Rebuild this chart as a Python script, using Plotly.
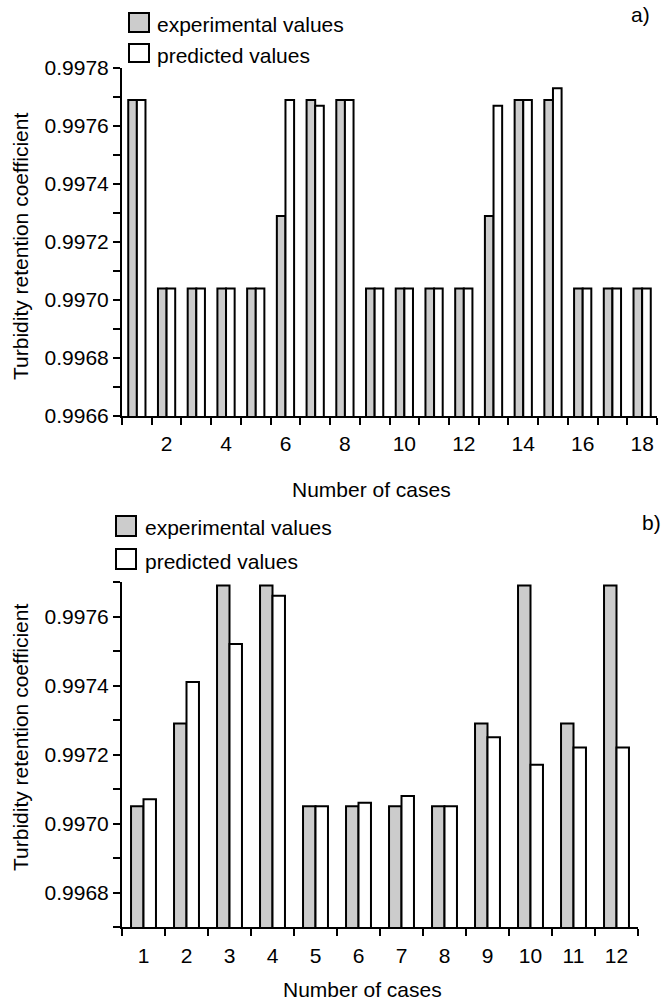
import plotly.graph_objects as go

# ---- data ----
cases_a = list(range(1, 19))
exp_a = [0.99769, 0.99704, 0.99704, 0.99704, 0.99704, 0.99729, 0.99769, 0.99769, 0.99704,
         0.99704, 0.99704, 0.99704, 0.99729, 0.99769, 0.99769, 0.99704, 0.99704, 0.99704]
pred_a = [0.99769, 0.99704, 0.99704, 0.99704, 0.99704, 0.99769, 0.99767, 0.99769, 0.99704,
          0.99704, 0.99704, 0.99704, 0.99767, 0.99769, 0.99773, 0.99704, 0.99704, 0.99704]

cases_b = list(range(1, 13))
exp_b = [0.99705, 0.99729, 0.99769, 0.99769, 0.99705, 0.99705, 0.99705, 0.99705,
         0.99729, 0.99769, 0.99729, 0.99769]
pred_b = [0.99707, 0.99741, 0.99752, 0.99766, 0.99705, 0.99706, 0.99708, 0.99705,
          0.99725, 0.99717, 0.99722, 0.99722]

yticks_a = [0.9966, 0.9968, 0.9970, 0.9972, 0.9974, 0.9976, 0.9978]
yticks_b = [0.9968, 0.9970, 0.9972, 0.9974, 0.9976]
xticks_a = [2, 4, 6, 8, 10, 12, 14, 16, 18]
xticks_b = cases_b

W, H = 662, 1003
FONT = "Liberation Sans, Arial, sans-serif"
FS = 21
GRAY = "#cccccc"


def px(x):
    return x / W


def py(y):
    return 1 - y / H


fig = go.Figure()
fig.add_trace(go.Bar(x=cases_a, y=exp_a, marker=dict(color=GRAY, line=dict(color="black", width=2)),
                     xaxis="x", yaxis="y", showlegend=False))
fig.add_trace(go.Bar(x=cases_a, y=pred_a, marker=dict(color="white", line=dict(color="black", width=2)),
                     xaxis="x", yaxis="y", showlegend=False))
fig.add_trace(go.Bar(x=cases_b, y=exp_b, marker=dict(color=GRAY, line=dict(color="black", width=2)),
                     xaxis="x2", yaxis="y2", showlegend=False))
fig.add_trace(go.Bar(x=cases_b, y=pred_b, marker=dict(color="white", line=dict(color="black", width=2)),
                     xaxis="x2", yaxis="y2", showlegend=False))

axis_common = dict(showline=True, linecolor="black", linewidth=2, showgrid=False, zeroline=False,
                   automargin=False, tickfont=dict(family=FONT, size=FS, color="black"))

fig.update_layout(
    template="none",
    width=W, height=H,
    margin=dict(l=0, r=0, t=0, b=0),
    paper_bgcolor="white", plot_bgcolor="white",
    barmode="group", bargap=0.42, bargroupgap=0,
    font=dict(family=FONT, size=FS, color="black"),
    xaxis=dict(domain=[px(122), px(657)], range=[0.5, 18.5], anchor="y",
               tickmode="array", tickvals=xticks_a, ticks="", ticklabelstandoff=8,
               minor=dict(ticks="outside", tick0=0.5, dtick=1, ticklen=7, tickwidth=2, tickcolor="black"),
               **axis_common),
    yaxis=dict(domain=[py(416), py(68)], range=[0.9966, 0.9978], anchor="x",
               tickmode="array", tickvals=yticks_a, tickformat=".4f",
               ticks="outside", ticklen=7, tickwidth=2, tickcolor="black",
               minor=dict(ticks="outside", tick0=0.9965, dtick=0.0001, ticklen=7, tickwidth=2, tickcolor="black"),
               **axis_common),
    xaxis2=dict(domain=[px(122), px(638)], range=[0.5, 12.5], anchor="y2",
                tickmode="array", tickvals=xticks_b, ticks="", ticklabelstandoff=9,
                minor=dict(ticks="outside", tick0=0.5, dtick=1, ticklen=7, tickwidth=2, tickcolor="black"),
                **axis_common),
    yaxis2=dict(domain=[py(927), py(582)], range=[0.9967, 0.9977], anchor="x2",
                tickmode="array", tickvals=yticks_b, tickformat=".4f",
                ticks="outside", ticklen=7, tickwidth=2, tickcolor="black",
                minor=dict(ticks="outside", tick0=0.9967, dtick=0.0001, ticklen=7, tickwidth=2, tickcolor="black"),
                **axis_common),
)

ann = []
shapes = []


def text(x, y, s, xanchor="center", angle=0):
    ann.append(dict(x=px(x), y=py(y), xref="paper", yref="paper", text=s, showarrow=False,
                    xanchor=xanchor, yanchor="middle", textangle=angle,
                    font=dict(family=FONT, size=FS, color="black")))


def box(x0, y0, x1, y1, fill):
    shapes.append(dict(type="rect", xref="paper", yref="paper", x0=px(x0), x1=px(x1), y0=py(y1), y1=py(y0),
                       fillcolor=fill, line=dict(color="black", width=2)))


# titles
text(20, 247, "Turbidity retention coefficient", angle=-90)
text(20, 738, "Turbidity retention coefficient", angle=-90)
text(371, 490, "Number of cases")
text(362, 989, "Number of cases")
text(640, 15, "a)")
text(651, 522, "b)")

# legends
box(129, 13, 149, 32, GRAY)
box(129, 44, 149, 62, "white")
text(155, 24, "experimental values", xanchor="left")
text(155, 55, "predicted values", xanchor="left")
box(116, 516, 136, 536, GRAY)
box(116, 549, 136, 569, "white")
text(143, 527, "experimental values", xanchor="left")
text(143, 561, "predicted values", xanchor="left")

fig.update_layout(annotations=ann, shapes=shapes)
fig.write_html("out.html", config={"displayModeBar": False},
               post_script="document.body.style.margin='0';document.body.style.overflow='hidden';")
